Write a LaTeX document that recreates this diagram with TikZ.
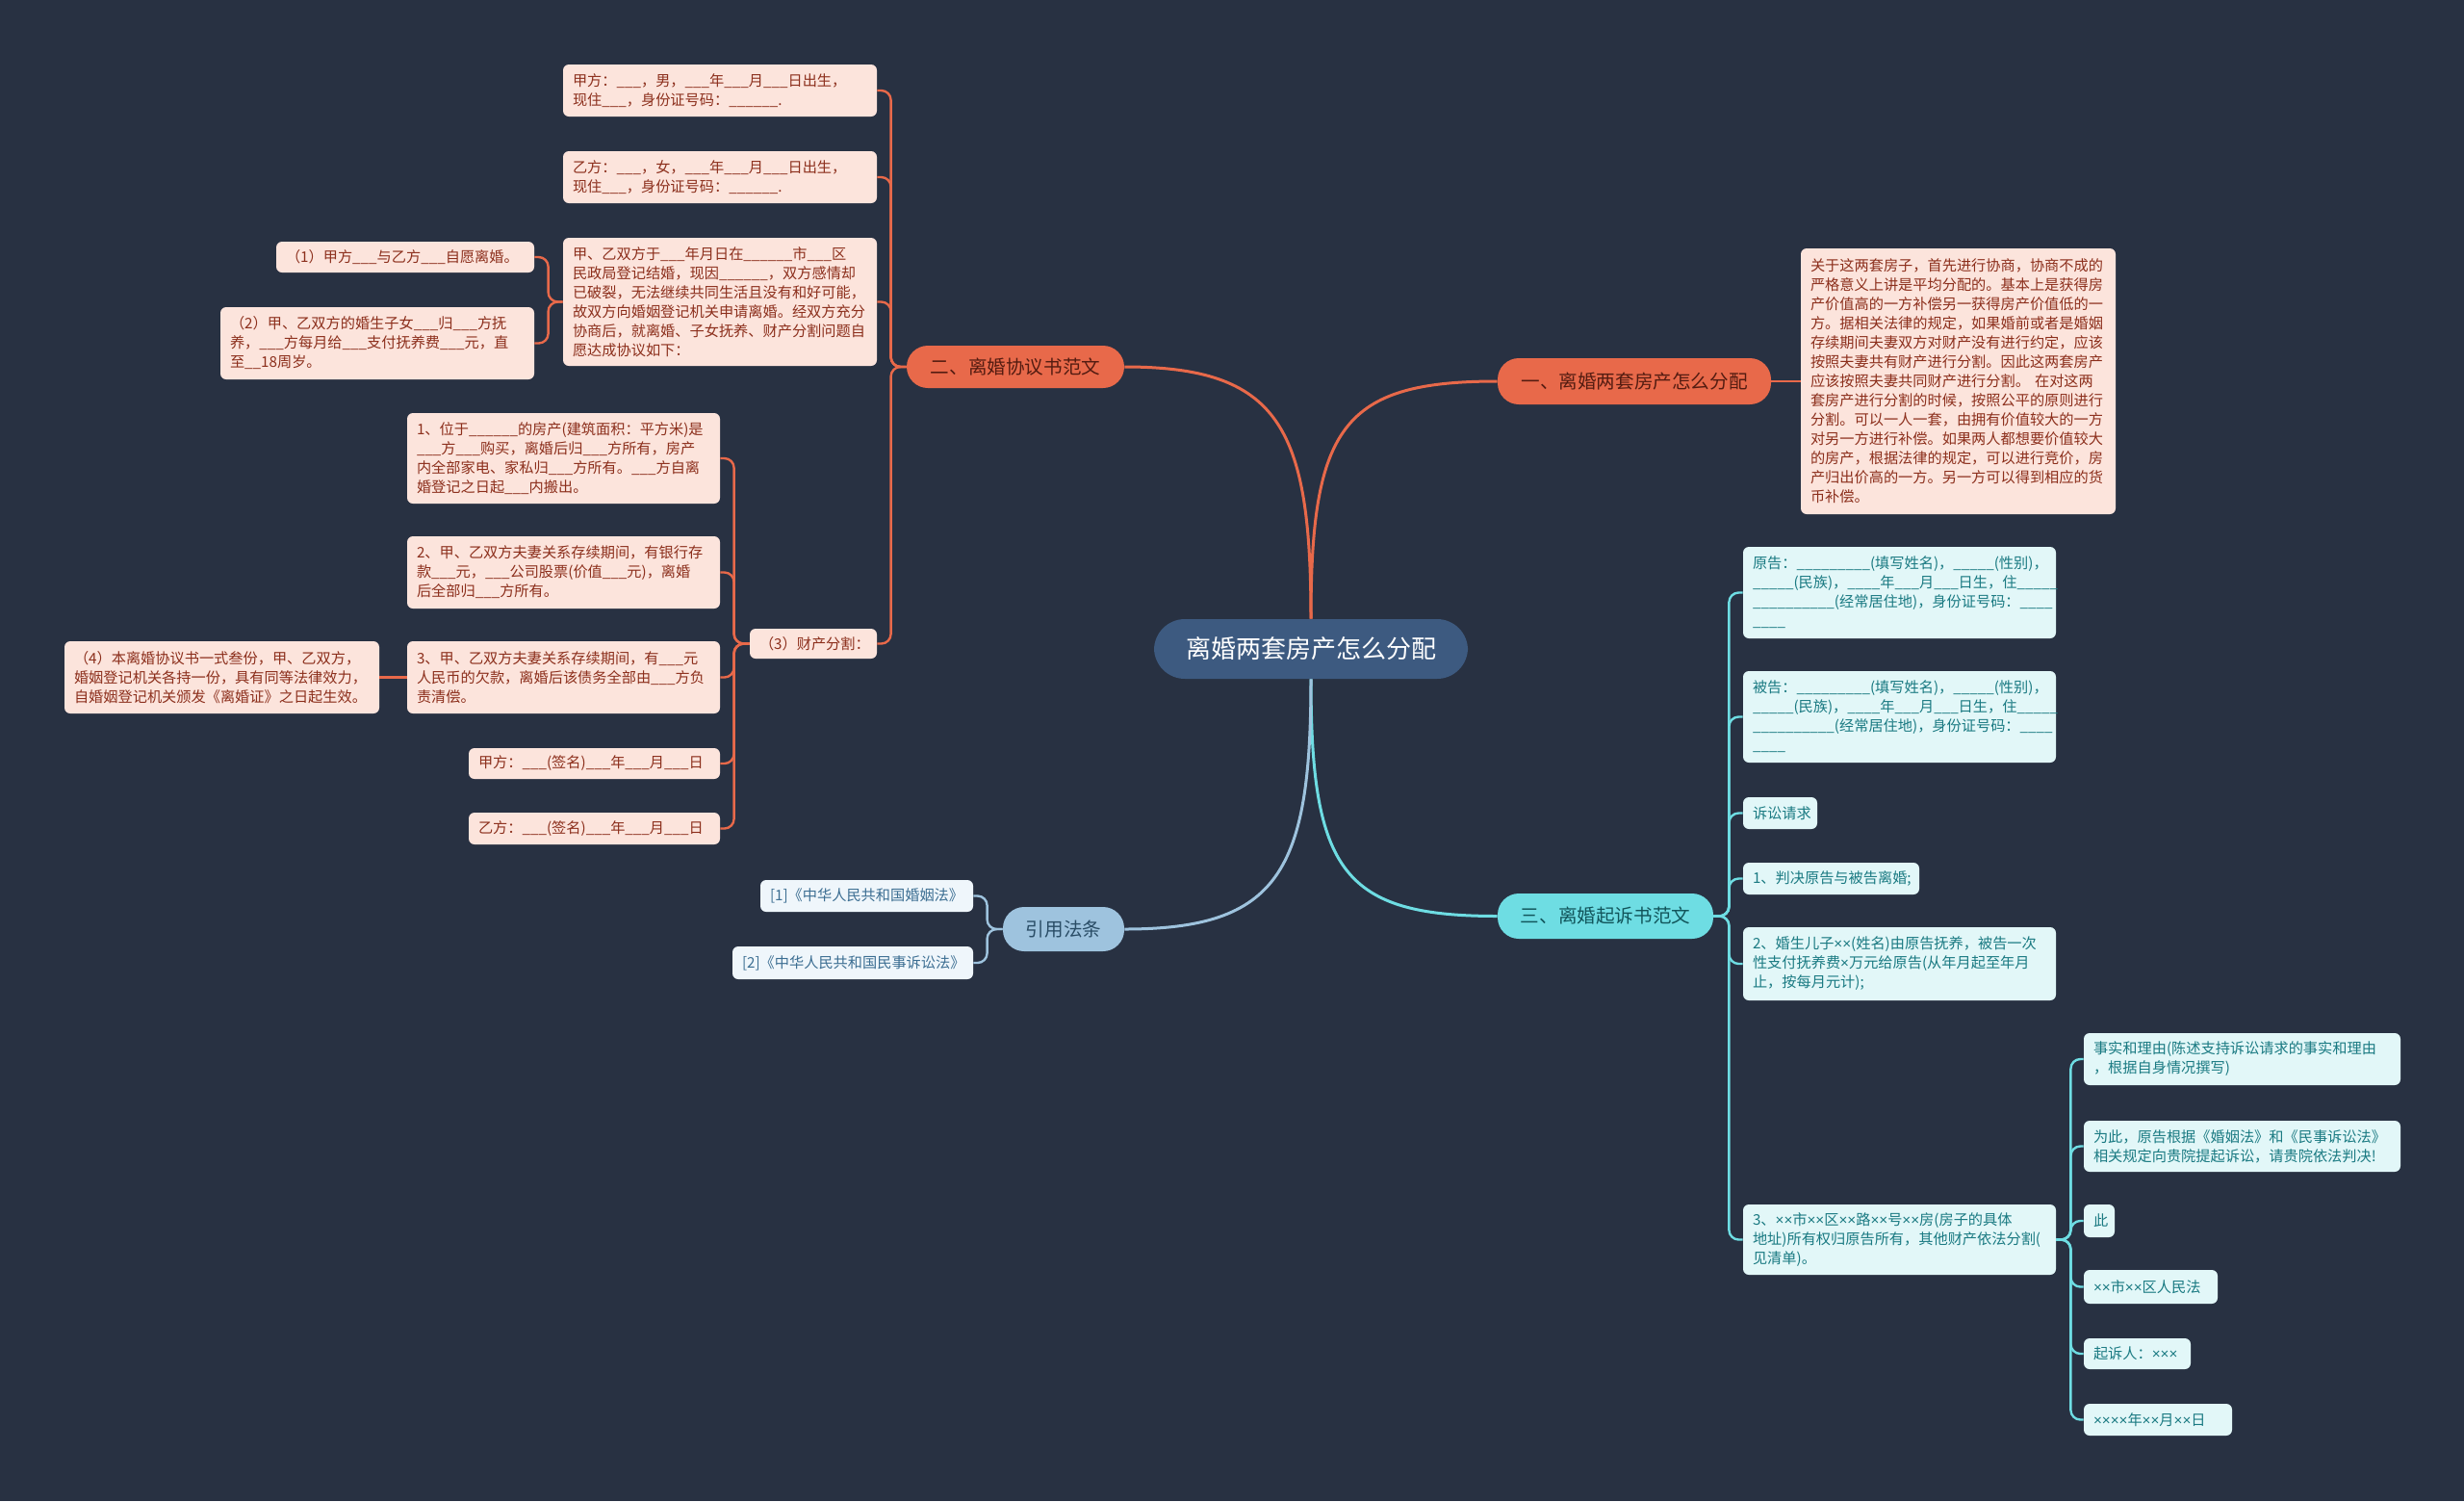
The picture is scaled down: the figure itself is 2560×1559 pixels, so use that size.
\documentclass[tikz,border=0pt]{standalone}
\usepackage{fontspec}
\setmainfont{Noto Sans CJK SC}
\newfontfamily\latf{Liberation Sans}
\newcommand\X{{\latf ×}}
\definecolor{bg}{HTML}{283142}
\definecolor{org}{HTML}{E8694A}
\definecolor{pinkf}{HTML}{FCE4DC}
\definecolor{pinkt}{HTML}{8C2F1C}
\definecolor{cyn}{HTML}{6EDDE3}
\definecolor{cynf}{HTML}{E2F7F8}
\definecolor{cynt}{HTML}{1A7A82}
\definecolor{blu}{HTML}{9EC3DE}
\definecolor{bluf}{HTML}{EFF6FB}
\definecolor{blut}{HTML}{3C6E92}
\definecolor{ctr}{HTML}{3D5A80}
\tikzset{
  box/.style={rounded corners=3pt, inner xsep=5pt, inner ysep=2pt, align=left, font=\fontsize{7.6}{10}\selectfont},
  pk/.style={box, fill=pinkf, text=pinkt},
  cy/.style={box, fill=cynf, text=cynt},
  bl/.style={box, fill=bluf, text=blut},
  br/.style={rounded corners=11pt, inner sep=0pt, align=center, font=\fontsize{9.8}{12}\selectfont},
  ol/.style={draw=org, line width=1.2pt, rounded corners=5pt},
  cl/.style={draw=cyn, line width=1.2pt, rounded corners=5pt},
  bll/.style={draw=blu, line width=1.2pt, rounded corners=5pt},
}
\newcommand\leaf[7]{%
  \pgfmathsetmacro\tw{(#5-#3)*0.5-10}%
  \pgfmathsetmacro\mh{(#6-#4)*0.5}%
  \pgfmathsetmacro\cx{(#3+#5)/2}%
  \pgfmathsetmacro\cyy{(#4+#6)/2}%
  \node[#2, text width=\tw pt, minimum height=\mh pt] (#1) at (\cx,\cyy) {#7};}
\newcommand\brn[7]{%
  \pgfmathsetmacro\mw{(#5-#3)*0.5}%
  \pgfmathsetmacro\mh{(#6-#4)*0.5}%
  \pgfmathsetmacro\cx{(#3+#5)/2}%
  \pgfmathsetmacro\cyy{(#4+#6)/2}%
  \node[br, #2, minimum width=\mw pt, minimum height=\mh pt] (#1) at (\cx,\cyy) {#7};}
\begin{document}
\begin{tikzpicture}[x=0.5pt,y=-0.5pt]
\useasboundingbox (0,0) rectangle (2560,1559);
\fill[bg] (0,0) rectangle (2560,1559);
% center and branches
\brn{c}{fill=ctr,text=white,rounded corners=16pt,font=\fontsize{13}{15}\selectfont}{1199}{643}{1525}{705}{离婚两套房产怎么分配}
\brn{b1}{fill=org,text=pinkt!60!black}{1556}{372}{1840}{420}{一、离婚两套房产怎么分配}
\brn{b2}{fill=org,text=pinkt!60!black}{942}{359}{1168}{403}{二、离婚协议书范文}
\brn{b3}{fill=cyn,text=cynt!70!black}{1556}{928}{1780}{975}{三、离婚起诉书范文}
\brn{b4}{fill=blu,text=blut!70!black}{1042}{942}{1168}{988}{引用法条}
\draw[org,line width=1.5pt] (c.north) .. controls +(0,-200) and +(-160,0) .. (b1.west);
\draw[org,line width=1.5pt] (c.north) .. controls +(0,-200) and +(160,0) .. (b2.east);
\draw[cyn,line width=1.5pt] (c.south) .. controls +(0,200) and +(-160,0) .. (b3.west);
\draw[blu,line width=1.5pt] (c.south) .. controls +(0,200) and +(160,0) .. (b4.east);
% branch 1
\leaf{a1}{pk}{1871}{258}{2198}{534}{关于这两套房子，首先进行协商，协商不成的\\严格意义上讲是平均分配的。基本上是获得房\\产价值高的一方补偿另一获得房产价值低的一\\方。据相关法律的规定，如果婚前或者是婚姻\\存续期间夫妻双方对财产没有进行约定，应该\\按照夫妻共有财产进行分割。因此这两套房产\\应该按照夫妻共同财产进行分割。 在对这两\\套房产进行分割的时候，按照公平的原则进行\\分割。可以一人一套，由拥有价值较大的一方\\对另一方进行补偿。如果两人都想要价值较大\\的房产，根据法律的规定，可以进行竞价，房\\产归出价高的一方。另一方可以得到相应的货\\币补偿。}
\draw[ol] (b1.east) -- (a1.west);
% branch 2
\leaf{d1}{pk}{585}{67}{911}{121}{甲方：\_\_\_，男，\_\_\_年\_\_\_月\_\_\_日出生，\\现住\_\_\_，身份证号码：\_\_\_\_\_\_.}
\leaf{d2}{pk}{585}{157}{911}{211}{乙方：\_\_\_，女，\_\_\_年\_\_\_月\_\_\_日出生，\\现住\_\_\_，身份证号码：\_\_\_\_\_\_.}
\leaf{d3}{pk}{585}{247}{911}{380}{甲、乙双方于\_\_\_年月日在\_\_\_\_\_\_市\_\_\_区\\民政局登记结婚，现因\_\_\_\_\_\_，双方感情却\\已破裂，无法继续共同生活且没有和好可能，\\故双方向婚姻登记机关申请离婚。经双方充分\\协商后，就离婚、子女抚养、财产分割问题自\\愿达成协议如下：}
\leaf{e1}{pk}{287}{251}{555}{283}{（1）甲方\_\_\_与乙方\_\_\_自愿离婚。}
\leaf{e2}{pk}{229}{319}{555}{394}{（2）甲、乙双方的婚生子女\_\_\_归\_\_\_方抚\\养，\_\_\_方每月给\_\_\_支付抚养费\_\_\_元，直\\至\_\_18周岁。}
\leaf{d4}{pk}{779}{653}{911}{684}{（3）财产分割：}
\leaf{f1}{pk}{423}{429}{748}{523}{1、位于\_\_\_\_\_\_的房产(建筑面积：平方米)是\\\_\_\_方\_\_\_购买，离婚后归\_\_\_方所有，房产\\内全部家电、家私归\_\_\_方所有。\_\_\_方自离\\婚登记之日起\_\_\_内搬出。}
\leaf{f2}{pk}{423}{557}{748}{632}{2、甲、乙双方夫妻关系存续期间，有银行存\\款\_\_\_元，\_\_\_公司股票(价值\_\_\_元)，离婚\\后全部归\_\_\_方所有。}
\leaf{f3}{pk}{423}{666}{748}{741}{3、甲、乙双方夫妻关系存续期间，有\_\_\_元\\人民币的欠款，离婚后该债务全部由\_\_\_方负\\责清偿。}
\leaf{g1}{pk}{67}{666}{394}{741}{（4）本离婚协议书一式叁份，甲、乙双方，\\婚姻登记机关各持一份，具有同等法律效力，\\自婚姻登记机关颁发《离婚证》之日起生效。}
\leaf{f4}{pk}{487}{777}{748}{809}{甲方：\_\_\_(签名)\_\_\_年\_\_\_月\_\_\_日}
\leaf{f5}{pk}{487}{844}{748}{877}{乙方：\_\_\_(签名)\_\_\_年\_\_\_月\_\_\_日}
\foreach \n in {d1,d2,d3,d4} \draw[ol] (b2.west) -- ++(-16,0) |- (\n.east);
\foreach \n in {e1,e2} \draw[ol] (d3.west) -- ++(-15,0) |- (\n.east);
\foreach \n in {f1,f2,f3,f4,f5} \draw[ol] (d4.west) -- ++(-16,0) |- (\n.east);
\draw[ol] (f3.west) -- (g1.east);
% branch 3
\leaf{h1}{cy}{1811}{568}{2136}{663}{原告：\_\_\_\_\_\_\_\_\_(填写姓名)，\_\_\_\_\_(性别)，\\\_\_\_\_\_(民族)，\_\_\_\_年\_\_\_月\_\_\_日生，住\_\_\_\_\_\\\_\_\_\_\_\_\_\_\_\_(经常居住地)，身份证号码：\_\_\_\_\\\_\_\_\_}
\leaf{h2}{cy}{1811}{697}{2136}{792}{被告：\_\_\_\_\_\_\_\_\_(填写姓名)，\_\_\_\_\_(性别)，\\\_\_\_\_\_(民族)，\_\_\_\_年\_\_\_月\_\_\_日生，住\_\_\_\_\_\\\_\_\_\_\_\_\_\_\_\_(经常居住地)，身份证号码：\_\_\_\_\\\_\_\_\_}
\leaf{h3}{cy}{1811}{828}{1888}{861}{诉讼请求}
\leaf{h4}{cy}{1811}{896}{1994}{929}{1、判决原告与被告离婚;}
\leaf{h5}{cy}{1811}{963}{2136}{1039}{2、婚生儿子\X\X(姓名)由原告抚养，被告一次\\性支付抚养费\X 万元给原告(从年月起至年月\\止，按每月元计);}
\leaf{h6}{cy}{1811}{1251}{2136}{1324}{3、\X\X 市\X\X 区\X\X 路\X\X 号\X\X 房(房子的具体\\地址)所有权归原告所有，其他财产依法分割(\\见清单)。}
\leaf{k1}{cy}{2165}{1073}{2494}{1127}{事实和理由(陈述支持诉讼请求的事实和理由\\，根据自身情况撰写)}
\leaf{k2}{cy}{2165}{1164}{2494}{1217}{为此，原告根据《婚姻法》和《民事诉讼法》\\相关规定向贵院提起诉讼，请贵院依法判决!}
\leaf{k3}{cy}{2165}{1251}{2197}{1285}{此}
\leaf{k4}{cy}{2165}{1319}{2304}{1354}{\X\X 市\X\X 区人民法}
\leaf{k5}{cy}{2165}{1390}{2276}{1422}{起诉人：\X\X\X}
\leaf{k6}{cy}{2165}{1458}{2319}{1491}{\X\X\X\X 年\X\X 月\X\X 日}
\foreach \n in {h1,h2,h3,h4,h5,h6} \draw[cl] (b3.east) -- ++(16,0) |- (\n.west);
\foreach \n in {k1,k2,k3,k4,k5,k6} \draw[cl] (h6.east) -- ++(15,0) |- (\n.west);
% branch 4
\leaf{m1}{bl}{790}{914}{1011}{947}{[1]《中华人民共和国婚姻法》}
\leaf{m2}{bl}{761}{983}{1011}{1017}{[2]《中华人民共和国民事诉讼法》}
\foreach \n in {m1,m2} \draw[bll] (b4.west) -- ++(-16,0) |- (\n.east);
\end{tikzpicture}
\end{document}
